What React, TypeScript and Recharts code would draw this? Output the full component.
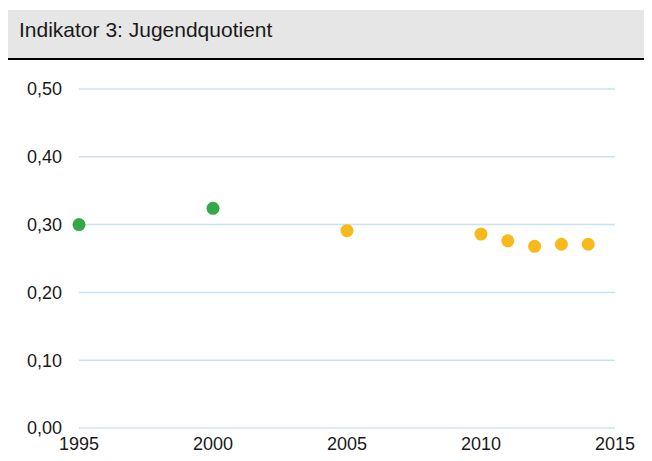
import React from 'react';
import { ScatterChart, Scatter, XAxis, YAxis, CartesianGrid } from 'recharts';

const titleText = 'Indikator 3: Jugendquotient';

const greenYears = [1995, 2000];
const greenValues = [0.3, 0.324];

const yellowYears = [2005, 2010, 2011, 2012, 2013, 2014];
const yellowValues = [0.291, 0.286, 0.276, 0.268, 0.271, 0.271];

const xTicks = [1995, 2000, 2005, 2010, 2015];
const yTicks = [0, 0.1, 0.2, 0.3, 0.4, 0.5];

const greenData = greenYears.map((year, i) => ({ year, value: greenValues[i] }));
const yellowData = yellowYears.map((year, i) => ({ year, value: yellowValues[i] }));

const fontFamily = '"Liberation Sans", Arial, Helvetica, sans-serif';
const tickStyle = { fontSize: 18, fill: '#1a1a1a', fontFamily };

const formatValue = (v: number) => v.toFixed(2).replace('.', ',');

const Dot = (props: any) => {
  const { cx, cy, fill } = props;
  if (cx == null || cy == null) return null;
  return <circle cx={cx} cy={cy} r={6.5} fill={fill} />;
};

const App: React.FC = () => {
  return (
    <div style={{ width: 636, fontFamily }}>
      <div
        style={{
          marginTop: 2,
          height: 40,
          paddingTop: 8,
          paddingLeft: 11,
          background: '#e6e6e6',
          borderBottom: '2px solid #000',
          boxSizing: 'content-box',
          fontSize: 21,
          lineHeight: 'normal',
          color: '#1a1a1a',
        }}
      >
        {titleText}
      </div>
      <ScatterChart
        width={636}
        height={401}
        margin={{ top: 29, right: 29, left: 0, bottom: 0 }}
      >
        <CartesianGrid horizontal vertical={false} stroke="#c6e4ef" strokeWidth={1.5} />
        <XAxis
          type="number"
          dataKey="year"
          domain={[1995, 2015]}
          ticks={xTicks}
          axisLine={false}
          tickLine={false}
          tickSize={0}
          tickMargin={9}
          height={33}
          tick={tickStyle}
          interval={0}
        />
        <YAxis
          type="number"
          dataKey="value"
          domain={[0, 0.5]}
          ticks={yTicks}
          axisLine={false}
          tickLine={false}
          tickSize={0}
          tickMargin={17}
          width={71}
          tick={tickStyle}
          tickFormatter={formatValue}
          interval={0}
        />
        <Scatter data={greenData} fill="#35a94a" shape={<Dot />} isAnimationActive={false} />
        <Scatter data={yellowData} fill="#f8b91b" shape={<Dot />} isAnimationActive={false} />
      </ScatterChart>
    </div>
  );
};

export default App;
